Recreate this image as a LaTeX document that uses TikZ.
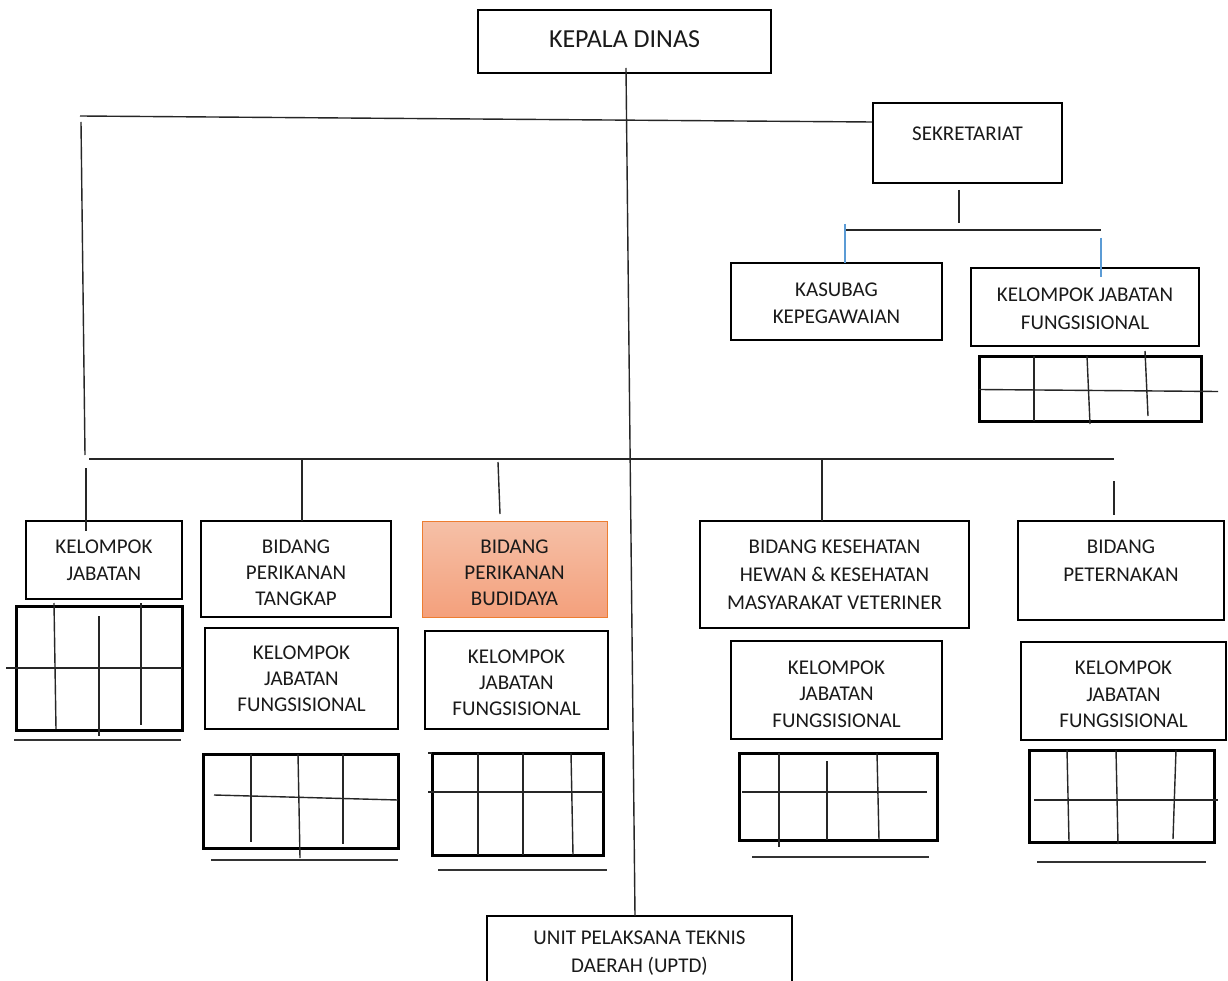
\documentclass[tikz,border=0pt]{standalone}
\usepackage{fontspec}
\setmainfont{Carlito}
\definecolor{blueline}{HTML}{5B9BD5}
\definecolor{orangeborder}{HTML}{ED7D31}
\definecolor{orangetop}{HTML}{F5C0A7}
\definecolor{orangebot}{HTML}{F4A07C}
\definecolor{txt}{HTML}{1A1A1A}
\tikzset{
  box/.style={draw=black, line width=2.6pt, inner sep=0pt},
  orangebox/.style={box, draw=orangeborder, line width=1pt, top color=orangetop, bottom color=orangebot},
  lbl/.style={align=center, inner sep=0pt, text=txt, font=\fontsize{21}{26}\selectfont},
  biglbl/.style={lbl, font=\fontsize{26}{31}\selectfont},
  conn/.style={draw=black!85, line width=1.4pt},
  bluec/.style={draw=blueline, line width=1.4pt},
  gridbox/.style={draw=black, line width=3pt},
  gridline/.style={draw=black!85, line width=1.4pt},
  uline/.style={draw=black!80, line width=1.5pt}
}
\begin{document}
\begin{tikzpicture}[x=1pt, y=-1pt]
\clip (0,0) rectangle (1228,981);
\fill[white] (0,0) rectangle (1228,981);

% ---------- boxes ----------
\node[box, minimum width=293pt, minimum height=63pt] (kd) at (624.5,41.5) {};
\node[box, minimum width=189pt, minimum height=80pt] (sek) at (967.5,143) {};
\node[box, minimum width=211pt, minimum height=77pt] (kasubag) at (836.5,301.5) {};
\node[box, minimum width=228pt, minimum height=78pt] (kjfs) at (1085,307) {};
\node[box, minimum width=156pt, minimum height=78pt] (kj) at (104,560) {};
\node[box, minimum width=190pt, minimum height=96pt] (tangkap) at (296,569) {};
\node[orangebox, minimum width=185pt, minimum height=96pt] (budidaya) at (514.5,569) {};
\node[box, minimum width=269pt, minimum height=107pt] (keswan) at (834.5,574.5) {};
\node[box, minimum width=206pt, minimum height=99pt] (ternak) at (1121,570.5) {};
\node[box, minimum width=193pt, minimum height=101pt] (kjf1) at (301.5,678.5) {};
\node[box, minimum width=183pt, minimum height=98pt] (kjf2) at (516.5,680) {};
\node[box, minimum width=211pt, minimum height=98pt] (kjf3) at (836.5,690) {};
\node[box, minimum width=205pt, minimum height=98pt] (kjf4) at (1123.5,691) {};
\node[box, minimum width=305pt, minimum height=76pt] (uptd) at (639.5,954) {};

% ---------- box texts ----------
\node[biglbl] (kd-t) at ([yshift=2.5pt]kd.center) {KEPALA DINAS};
\node[lbl] (sek-t) at ([yshift=9pt]sek.center) {SEKRETARIAT};
\node[lbl, font=\fontsize{21}{27}\selectfont] (kasubag-t) at ([yshift=-1.5pt]kasubag.center) {KASUBAG\\KEPEGAWAIAN};
\node[lbl, font=\fontsize{21}{28}\selectfont] (kjfs-t) at ([yshift=-2pt]kjfs.center) {KELOMPOK JABATAN\\FUNGSISIONAL};
\node[lbl, font=\fontsize{21}{27}\selectfont] (kj-t) at (kj.center) {KELOMPOK\\JABATAN};
\node[lbl] (tangkap-t) at ([yshift=-3.5pt]tangkap.center) {BIDANG\\PERIKANAN\\TANGKAP};
\node[lbl] (budidaya-t) at ([yshift=-3.5pt]budidaya.center) {BIDANG\\PERIKANAN\\BUDIDAYA};
\node[lbl, font=\fontsize{21}{28}\selectfont] (keswan-t) at (keswan.center) {BIDANG KESEHATAN\\HEWAN \& KESEHATAN\\MASYARAKAT VETERINER};
\node[lbl, font=\fontsize{21}{28}\selectfont] (ternak-t) at ([yshift=9.5pt]ternak.center) {BIDANG\\PETERNAKAN};
\node[lbl] (kjf1-t) at (kjf1.center) {KELOMPOK\\JABATAN\\FUNGSISIONAL};
\node[lbl] (kjf2-t) at ([yshift=-2.5pt]kjf2.center) {KELOMPOK\\JABATAN\\FUNGSISIONAL};
\node[lbl, font=\fontsize{21}{26.5}\selectfont] (kjf3-t) at ([yshift=-4pt]kjf3.center) {KELOMPOK\\JABATAN\\FUNGSISIONAL};
\node[lbl, font=\fontsize{21}{26.5}\selectfont] (kjf4-t) at ([yshift=-3.5pt]kjf4.center) {KELOMPOK\\JABATAN\\FUNGSISIONAL};
\node[lbl, font=\fontsize{21}{28}\selectfont] (uptd-t) at ([yshift=1pt]uptd.center) {UNIT PELAKSANA TEKNIS\\DAERAH (UPTD)};

% ---------- connector coordinates ----------
\coordinate (trunkTop) at (626,68);
\coordinate (trunkBot) at (635,916);
\coordinate (topL) at (80,116);
\coordinate (topR) at (872,122);
\coordinate (leftTop) at (81,122);
\coordinate (leftBot) at (85,455);
\coordinate (busL) at (89,459);
\coordinate (busR) at (1114,459);
\coordinate (d1a) at (86,468);   \coordinate (d1b) at (86,531);
\coordinate (d2a) at (302,459);  \coordinate (d2b) at (302,521);
\coordinate (d3a) at (498,462);  \coordinate (d3b) at (500,514);
\coordinate (d4a) at (822,459);  \coordinate (d4b) at (822,521);
\coordinate (d5a) at (1114,481); \coordinate (d5b) at (1114,515);
\coordinate (sdA) at (959,190);  \coordinate (sdB) at (959,223);
\coordinate (sbL) at (845,230);  \coordinate (sbR) at (1101,230);
\coordinate (b1a) at (845,224);  \coordinate (b1b) at (845,263);
\coordinate (b2a) at (1101,238); \coordinate (b2b) at (1101,277);

% ---------- connectors ----------
\draw[conn] (trunkTop) -- (trunkBot);
\draw[conn] (topL) -- (topR);
\draw[conn] (leftTop) -- (leftBot);
\draw[conn] (busL) -- (busR);
\draw[conn] (d1a) -- (d1b);
\draw[conn] (d2a) -- (d2b);
\draw[conn] (d3a) -- (d3b);
\draw[conn] (d4a) -- (d4b);
\draw[conn] (d5a) -- (d5b);
\draw[conn] (sdA) -- (sdB);
\draw[conn] (sbL) -- (sbR);
\draw[bluec] (b1a) -- (b1b);
\draw[bluec] (b2a) -- (b2b);

% ---------- grids ----------
% under Sekretariat fungsional
\draw[gridbox] (979,356) rectangle (1201,421);
\draw[gridline] (979,389.5) -- (1218,391.5);
\draw[gridline] (1034,356) -- (1034,421);
\draw[gridline] (1087,356) -- (1090,424);
\draw[gridline] (1145,351) -- (1148,416);

% under Kelompok Jabatan
\draw[gridbox] (16,606) rectangle (182,730);
\draw[gridline] (6,668) -- (182,668);
\draw[gridline] (54,603) -- (56,729);
\draw[gridline] (99,616) -- (99,736);
\draw[gridline] (141,603) -- (141,725);
\draw[uline] (14,740) -- (181,740);

% under Tangkap
\draw[gridbox] (203,754) rectangle (398,848);
\draw[gridline] (214,795) -- (398,800);
\draw[gridline] (251,754) -- (251,842);
\draw[gridline] (298,754) -- (300,858);
\draw[gridline] (343,754) -- (343,844);
\draw[uline] (211,860) -- (398,860);

% under Budidaya
\draw[gridbox] (432,753) rectangle (603,855);
\draw[gridline] (428,753) -- (432,753);
\draw[gridline] (428,792) -- (603,792);
\draw[gridline] (478,753) -- (478,855);
\draw[gridline] (523,753) -- (523,855);
\draw[gridline] (571,753) -- (573,855);
\draw[uline] (438,870) -- (607,870);

% under Kesehatan
\draw[gridbox] (739,753) rectangle (937,840);
\draw[gridline] (742,792) -- (927,792);
\draw[gridline] (779,753) -- (779,847);
\draw[gridline] (827,761) -- (827,840);
\draw[gridline] (877,753) -- (879,840);
\draw[uline] (752,857) -- (929,857);

% under Peternakan
\draw[gridbox] (1029,750) rectangle (1214,842);
\draw[gridline] (1034,800) -- (1218,800);
\draw[gridline] (1067,750) -- (1069,842);
\draw[gridline] (1116,750) -- (1118,844);
\draw[gridline] (1176,750) -- (1173,839);
\draw[uline] (1037,862) -- (1206,862);
\end{tikzpicture}
\end{document}
